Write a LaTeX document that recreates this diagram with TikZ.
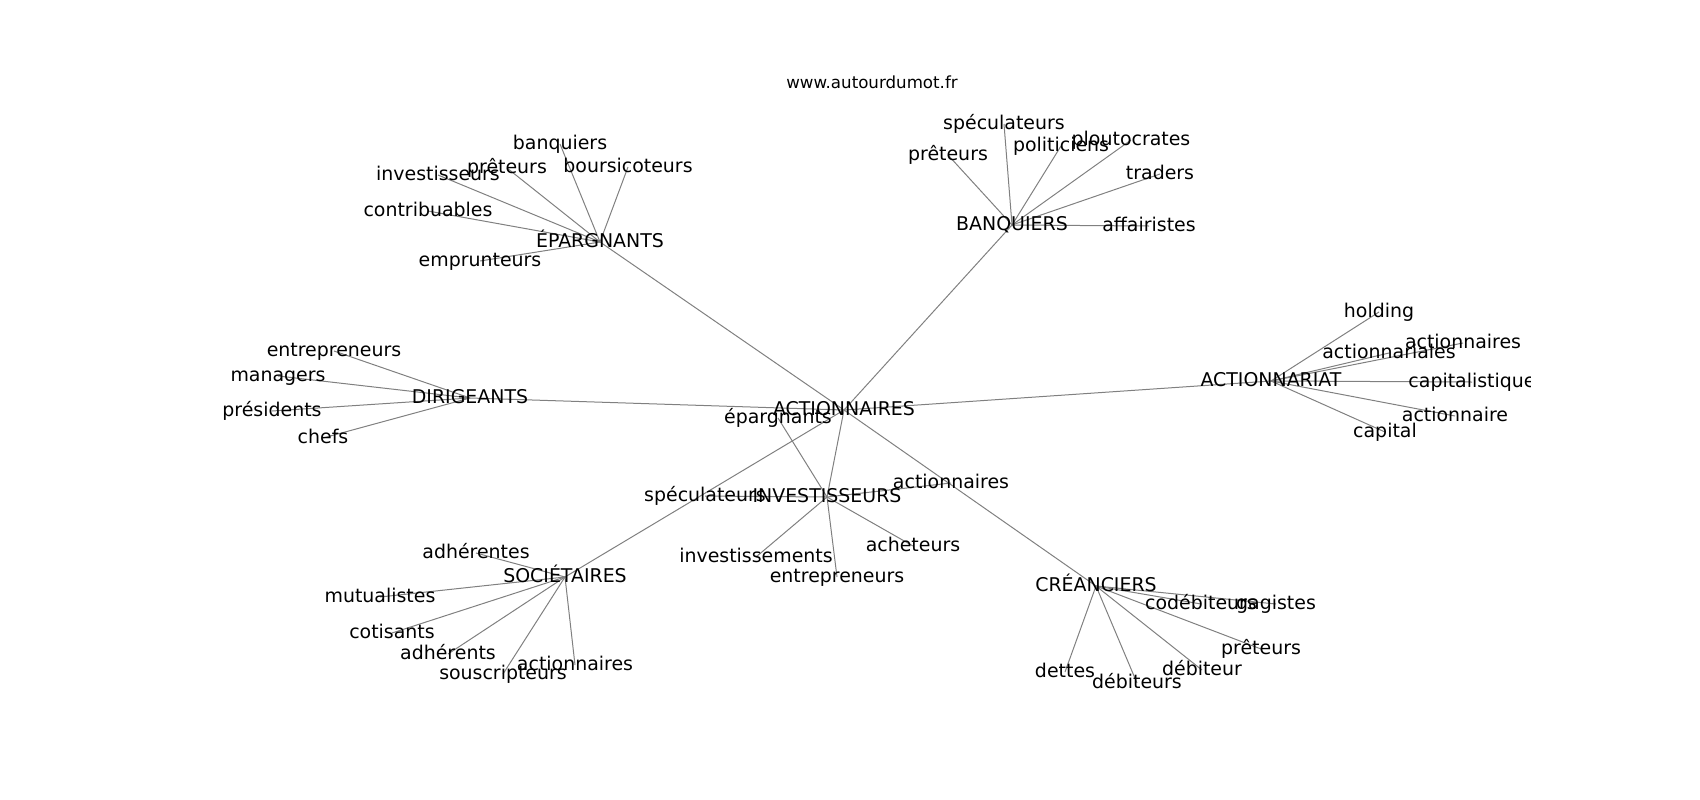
\documentclass[tikz,border=0pt]{standalone}
\usepackage{fontspec}
\setmainfont{DejaVu Sans}
\usetikzlibrary{backgrounds}

\begin{document}
\begin{tikzpicture}[x=0.75pt,y=-0.75pt,
	mot/.style={inner sep=0pt,text height=0.95em,text depth=0.09em,font=\fontsize{14.2}{16}\selectfont},
	lien/.style={draw=gray,line width=0.75pt}]
	\useasboundingbox (0,0) rectangle (1700,800);
	\node (titre) at(872,82) [inner sep=0pt,font=\fontsize{12.5}{14}\selectfont] {www.autourdumot.fr} ;

	\begin{scope}
	\clip (212.5,96) rectangle (1530,712);
		%centre et mots principaux
		\node (node ACT) at(844,410) [mot] {ACTIONNAIRES} ;
		\node (node EPA) at(600,242) [mot] {ÉPARGNANTS} ;
		\node (node BAN) at(1012,225) [mot] {BANQUIERS} ;
		\node (node ACR) at(1271,381) [mot] {ACTIONNARIAT} ;
		\node (node DIR) at(470,398) [mot] {DIRIGEANTS} ;
		\node (node INV) at(827,497) [mot] {INVESTISSEURS} ;
		\node (node SOC) at(565,577) [mot] {SOCIÉTAIRES} ;
		\node (node CRE) at(1096,586) [mot] {CRÉANCIERS} ;

		%autour de ÉPARGNANTS
		\node (node e1) at(560,144) [mot] {banquiers} ;
		\node (node e2) at(507,168) [mot] {prêteurs} ;
		\node (node e3) at(628,167) [mot] {boursicoteurs} ;
		\node (node e4) at(438,175) [mot] {investisseurs} ;
		\node (node e5) at(428,211) [mot] {contribuables} ;
		\node (node e6) at(480,261) [mot] {emprunteurs} ;

		%autour de BANQUIERS
		\node (node b1) at(1004,124) [mot] {spéculateurs} ;
		\node (node b2) at(948,155) [mot] {prêteurs} ;
		\node (node b3) at(1061,146) [mot] {politiciens} ;
		\node (node b4) at(1131,140) [mot] {ploutocrates} ;
		\node (node b5) at(1160,174) [mot] {traders} ;
		\node (node b6) at(1149,226) [mot] {affairistes} ;

		%autour de ACTIONNARIAT
		\node (node a1) at(1379,312) [mot] {holding} ;
		\node (node a2) at(1463,343) [mot] {actionnaires} ;
		\node (node a3) at(1389,353) [mot] {actionnariales} ;
		\node (node a4) at(1472,382) [mot] {capitalistique} ;
		\node (node a5) at(1455,416) [mot] {actionnaire} ;
		\node (node a6) at(1385,432) [mot] {capital} ;

		%autour de DIRIGEANTS
		\node (node d1) at(334,351) [mot] {entrepreneurs} ;
		\node (node d2) at(278,376) [mot] {managers} ;
		\node (node d3) at(272,411) [mot] {présidents} ;
		\node (node d4) at(323,438) [mot] {chefs} ;

		%autour de INVESTISSEURS
		\node (node i1) at(778,418) [mot] {épargnants} ;
		\node (node i2) at(705,496) [mot] {spéculateurs} ;
		\node (node i3) at(951,483) [mot] {actionnaires} ;
		\node (node i4) at(756,557) [mot] {investissements} ;
		\node (node i5) at(837,577) [mot] {entrepreneurs} ;
		\node (node i6) at(913,546) [mot] {acheteurs} ;

		%autour de SOCIÉTAIRES
		\node (node s1) at(476,553) [mot] {adhérentes} ;
		\node (node s2) at(380,597) [mot] {mutualistes} ;
		\node (node s3) at(392,633) [mot] {cotisants} ;
		\node (node s4) at(448,654) [mot] {adhérents} ;
		\node (node s5) at(503,674) [mot] {souscripteurs} ;
		\node (node s6) at(575,665) [mot] {actionnaires} ;

		%autour de CRÉANCIERS
		\node (node c1) at(1201,604) [mot] {codébiteurs} ;
		\node (node c2) at(1276,604) [mot] {gagistes} ;
		\node (node c3) at(1261,649) [mot] {prêteurs} ;
		\node (node c4) at(1202,670) [mot] {débiteur} ;
		\node (node c5) at(1137,683) [mot] {débiteurs} ;
		\node (node c6) at(1065,672) [mot] {dettes} ;
	\end{scope}

	%les arêtes, sous les mots
	\begin{pgfonlayer}{background}
	\clip (212.5,96) rectangle (1530,712);
		\foreach \h in {EPA,BAN,ACR,DIR,INV,SOC,CRE}
			\path (node ACT.center) edge[lien] (node \h.center);
		\foreach \k in {1,...,6}{
			\path
			(node EPA.center) edge[lien] (node e\k.center)
			(node BAN.center) edge[lien] (node b\k.center)
			(node ACR.center) edge[lien] (node a\k.center)
			(node INV.center) edge[lien] (node i\k.center)
			(node SOC.center) edge[lien] (node s\k.center)
			(node CRE.center) edge[lien] (node c\k.center)
			;
		}
		\foreach \k in {1,...,4}
			\path (node DIR.center) edge[lien] (node d\k.center);
	\end{pgfonlayer}
\end{tikzpicture}
\end{document}
